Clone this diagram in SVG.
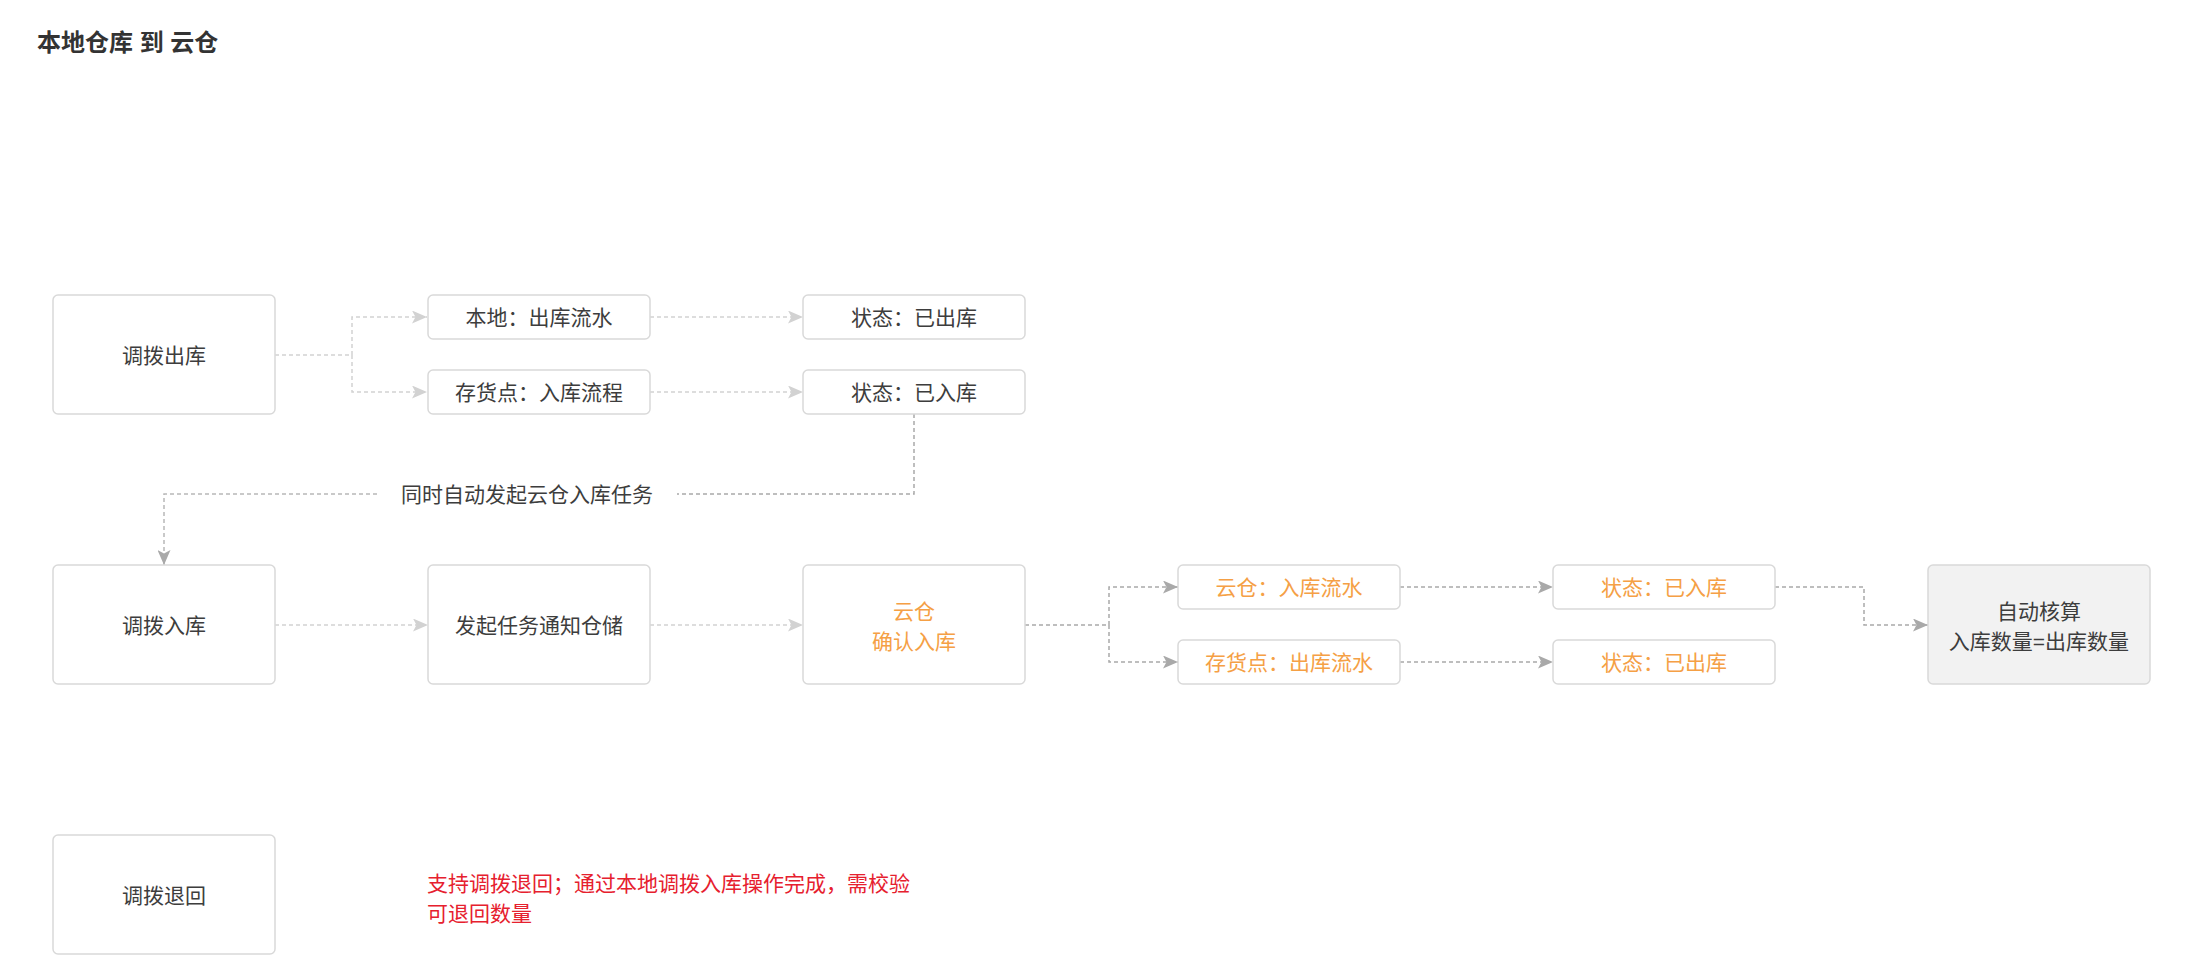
<svg xmlns="http://www.w3.org/2000/svg" width="2202" height="978" viewBox="0 0 2202 978">
<defs>
<style>
text{font-family:"Liberation Sans","Noto Sans CJK SC",sans-serif;font-size:21px;fill:#3d3d3d;}
.title{font-weight:bold;font-size:24px;fill:#333;}
.box{fill:#fff;stroke:#d9d9d9;stroke-width:1.5;}
.grey{fill:#f2f2f2;}
.c{text-anchor:middle;dominant-baseline:central;}
.org{fill:#f5a045;}
.red{fill:#e6202e;dominant-baseline:central;}
.lk{fill:none;stroke:#d2d2d2;stroke-width:1.5;stroke-dasharray:4 3;}
.dk{fill:none;stroke:#a9a9a9;stroke-width:1.5;stroke-dasharray:4 3;}
.md{fill:none;stroke:#b8b8b8;stroke-width:1.5;stroke-dasharray:4 3;}
</style>
<marker id="al" viewBox="0 0 15 13" refX="15" refY="6.5" markerWidth="15" markerHeight="13" markerUnits="userSpaceOnUse" orient="auto">
<path d="M0,0 L15,6.5 L0,13 L3.5,6.5 z" fill="#d2d2d2"/>
</marker>
<marker id="ad" viewBox="0 0 15 13" refX="15" refY="6.5" markerWidth="15" markerHeight="13" markerUnits="userSpaceOnUse" orient="auto">
<path d="M0,0 L15,6.5 L0,13 L3.5,6.5 z" fill="#a9a9a9"/>
</marker>
</defs>
<rect width="2202" height="978" fill="#fff"/>
<text class="title" x="37" y="51">本地仓库 到 云仓</text>

<g id="connectors">
<path class="lk" d="M275,355 H352 V317 H427" marker-end="url(#al)"/>
<path class="lk" d="M352,355 V392 H427" marker-end="url(#al)"/>
<path class="lk" d="M650,317 H803" marker-end="url(#al)"/>
<path class="lk" d="M650,392 H803" marker-end="url(#al)"/>
<path class="dk" d="M914,414 V494 H677"/>
<path class="md" d="M377,494 H164 V565" marker-end="url(#ad)"/>
<path class="lk" d="M275,625 H428" marker-end="url(#al)"/>
<path class="lk" d="M650,625 H803" marker-end="url(#al)"/>
<path class="dk" d="M1025,625 H1109 V587 H1178" marker-end="url(#ad)"/>
<path class="dk" d="M1109,625 V662 H1178" marker-end="url(#ad)"/>
<path class="dk" d="M1400,587 H1553" marker-end="url(#ad)"/>
<path class="dk" d="M1400,662 H1553" marker-end="url(#ad)"/>
<path class="dk" d="M1775,587 H1864 V625 H1928" marker-end="url(#ad)"/>
<text class="c" x="527" y="494">同时自动发起云仓入库任务</text>
</g>

<g id="n-out">
<rect class="box" x="53" y="295" width="222" height="119" rx="5"/>
<text class="c" x="164" y="355">调拨出库</text>
</g>
<g id="n-local-flow">
<rect class="box" x="428" y="295" width="222" height="44" rx="5"/>
<text class="c" x="539" y="317">本地：出库流水</text>
</g>
<g id="n-stock-in">
<rect class="box" x="428" y="370" width="222" height="44" rx="5"/>
<text class="c" x="539" y="392">存货点：入库流程</text>
</g>
<g id="n-state-out">
<rect class="box" x="803" y="295" width="222" height="44" rx="5"/>
<text class="c" x="914" y="317">状态：已出库</text>
</g>
<g id="n-state-in">
<rect class="box" x="803" y="370" width="222" height="44" rx="5"/>
<text class="c" x="914" y="392">状态：已入库</text>
</g>

<g id="n-in">
<rect class="box" x="53" y="565" width="222" height="119" rx="5"/>
<text class="c" x="164" y="625">调拨入库</text>
</g>
<g id="n-notify">
<rect class="box" x="428" y="565" width="222" height="119" rx="5"/>
<text class="c" x="539" y="625">发起任务通知仓储</text>
</g>
<g id="n-cloud-confirm">
<rect class="box" x="803" y="565" width="222" height="119" rx="5"/>
<text class="c org" x="914" y="611">云仓</text>
<text class="c org" x="914" y="641">确认入库</text>
</g>
<g id="n-cloud-flow">
<rect class="box" x="1178" y="565" width="222" height="44" rx="5"/>
<text class="c org" x="1289" y="587">云仓：入库流水</text>
</g>
<g id="n-stock-out">
<rect class="box" x="1178" y="640" width="222" height="44" rx="5"/>
<text class="c org" x="1289" y="662">存货点：出库流水</text>
</g>
<g id="n-state-in2">
<rect class="box" x="1553" y="565" width="222" height="44" rx="5"/>
<text class="c org" x="1664" y="587">状态：已入库</text>
</g>
<g id="n-state-out2">
<rect class="box" x="1553" y="640" width="222" height="44" rx="5"/>
<text class="c org" x="1664" y="662">状态：已出库</text>
</g>
<g id="n-calc">
<rect class="box grey" x="1928" y="565" width="222" height="119" rx="5"/>
<text class="c" x="2039" y="611">自动核算</text>
<text class="c" x="2039" y="641">入库数量=出库数量</text>
</g>

<g id="n-return">
<rect class="box" x="53" y="835" width="222" height="119" rx="5"/>
<text class="c" x="164" y="895">调拨退回</text>
</g>
<g id="note">
<text class="red" x="427" y="883">支持调拨退回；通过本地调拨入库操作完成，需校验</text>
<text class="red" x="427" y="913">可退回数量</text>
</g>
</svg>
